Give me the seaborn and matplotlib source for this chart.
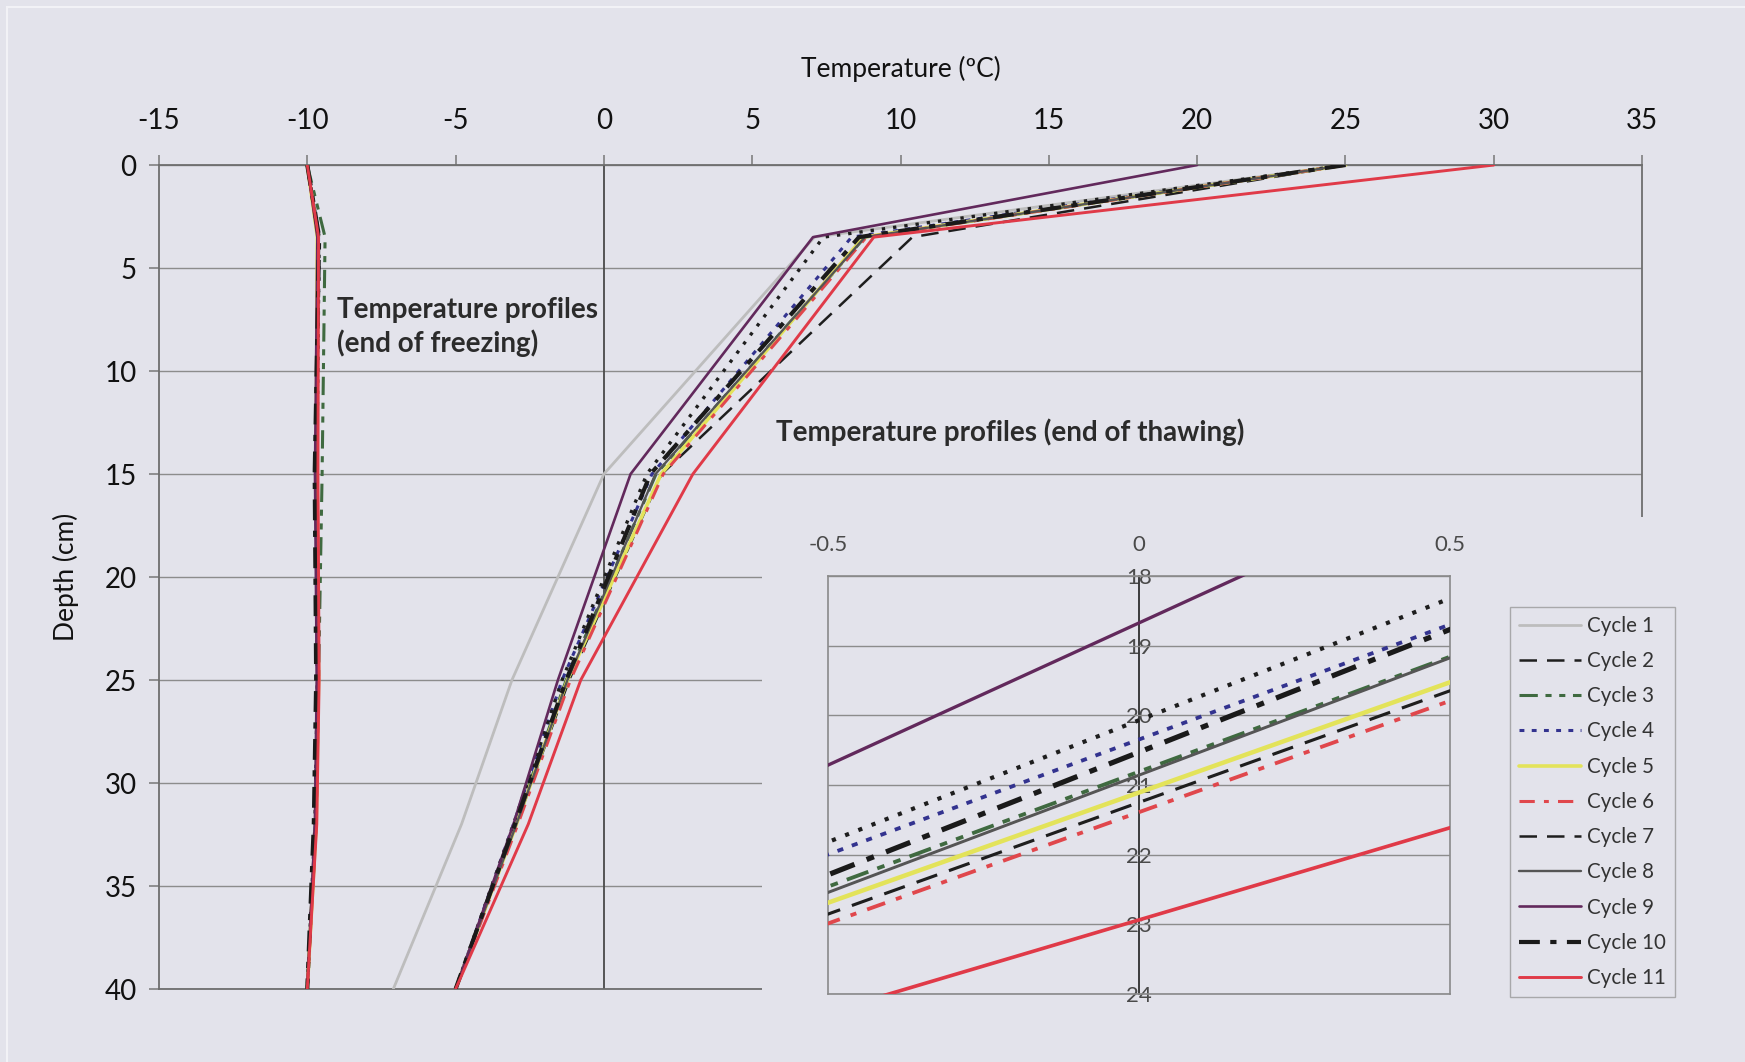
import matplotlib
matplotlib.use("Agg")
import numpy as np
import pandas as pd
import matplotlib.pyplot as plt
import seaborn as sns
from matplotlib.lines import Line2D
from matplotlib.patches import Rectangle

# ---------------- data ----------------
cycles = ["Cycle 1", "Cycle 2", "Cycle 3", "Cycle 4", "Cycle 5", "Cycle 6",
          "Cycle 7", "Cycle 8", "Cycle 9", "Cycle 10", "Cycle 11"]
depth_cm = [0, 3.5, 15, 25, 32, 40]

# temperature profiles at end of thawing (ºC), one list per cycle, at depth_cm
thaw_c1 = [25.0, 7.1, 0.0, -3.1, -4.8, -7.1]
thaw_c2 = [25.0, 10.4, 1.95, -1.17, -2.95, -5.0]
thaw_c3 = [25.0, 8.8, 1.76, -1.27, -3.0, -5.0]
thaw_c4 = [25.0, 8.35, 1.62, -1.41, -3.05, -5.0]
thaw_c5 = [25.0, 8.75, 1.93, -1.23, -2.95, -5.0]
thaw_c6 = [25.0, 8.85, 2.0, -1.13, -2.9, -5.0]
thaw_c7 = [25.0, 7.4, 1.45, -1.41, -3.05, -5.0]
thaw_c8 = [25.0, 8.8, 1.74, -1.23, -2.95, -5.0]
thaw_c9 = [20.0, 7.05, 0.9, -1.55, -3.05, -5.0]
thaw_c10 = [25.0, 8.6, 1.57, -1.27, -3.0, -5.0]
thaw_c11 = [30.0, 9.1, 3.0, -0.78, -2.55, -5.0]

# temperature profiles at end of freezing (ºC)
frz_c1 = [-10.0, -9.65, -9.70, -9.68, -9.75, -10.0]
frz_c2 = [-10.0, -9.60, -9.72, -9.66, -9.74, -10.0]
frz_c3 = [-10.0, -9.40, -9.50, -9.62, -9.70, -10.0]
frz_c4 = [-10.0, -9.62, -9.68, -9.64, -9.72, -10.0]
frz_c5 = [-10.0, -9.66, -9.70, -9.62, -9.70, -10.0]
frz_c6 = [-10.0, -9.64, -9.66, -9.62, -9.70, -10.0]
frz_c7 = [-10.0, -9.60, -9.68, -9.66, -9.74, -10.0]
frz_c8 = [-10.0, -9.63, -9.70, -9.65, -9.72, -10.0]
frz_c9 = [-10.0, -9.66, -9.74, -9.68, -9.74, -10.0]
frz_c10 = [-10.0, -9.60, -9.75, -9.70, -9.78, -10.0]
frz_c11 = [-10.0, -9.62, -9.64, -9.60, -9.68, -10.0]

thaw = [thaw_c1, thaw_c2, thaw_c3, thaw_c4, thaw_c5, thaw_c6,
        thaw_c7, thaw_c8, thaw_c9, thaw_c10, thaw_c11]
freeze = [frz_c1, frz_c2, frz_c3, frz_c4, frz_c5, frz_c6,
          frz_c7, frz_c8, frz_c9, frz_c10, frz_c11]

x_ticks = [-15, -10, -5, 0, 5, 10, 15, 20, 25, 30, 35]
y_ticks = [0, 5, 10, 15, 20, 25, 30, 35, 40]
inset_x_ticks = [-0.5, 0, 0.5]
inset_x_labels = ["-0.5", "0", "0.5"]
inset_y_ticks = [18, 19, 20, 21, 22, 23, 24]

# ---------------- styles ----------------
styles = {
    "Cycle 1": dict(color="#bdbdbd", lw=2.0, ls="-"),
    "Cycle 2": dict(color="#1e1e1e", lw=1.8, ls=(0, (7, 4))),
    "Cycle 3": dict(color="#3f6a40", lw=2.2, ls=(0, (6, 2.5, 2, 2.5, 2, 2.5))),
    "Cycle 4": dict(color="#33338f", lw=2.2, ls=(0, (1.6, 2.4))),
    "Cycle 5": dict(color="#e3e35a", lw=2.6, ls="-"),
    "Cycle 6": dict(color="#e0474c", lw=2.2, ls=(0, (5, 3, 1.6, 3))),
    "Cycle 7": dict(color="#1e1e1e", lw=2.4, ls=(0, (1.0, 2.4))),
    "Cycle 8": dict(color="#555555", lw=1.7, ls="-"),
    "Cycle 9": dict(color="#62295c", lw=1.9, ls="-"),
    "Cycle 10": dict(color="#1a1a1a", lw=3.0, ls=(0, (5, 2.5, 1.5, 2.5))),
    "Cycle 11": dict(color="#e03a48", lw=2.1, ls="-"),
}
legend_ls = dict(styles)
legend_ls["Cycle 7"] = dict(color="#1e1e1e", lw=1.8, ls=(0, (7, 4)))

BG = "#e3e3eb"
GRID = "#8c8c8c"
TXT = "#111111"

sns.set_theme(style="white")
plt.rcParams["font.family"] = ["Lato", "DejaVu Sans"]
plt.rcParams["axes.unicode_minus"] = False

fig = plt.figure(figsize=(17.45, 10.62), dpi=100, facecolor=BG)

# ---------------- main axes ----------------
ax = fig.add_axes([0.0911, 0.0687, 0.8499, 0.7759])
ax.set_facecolor(BG)

for name, t, f in zip(cycles, thaw, freeze):
    st = styles[name]
    for vals in (t, f):
        df = pd.DataFrame({"temp": vals, "depth": depth_cm})
        sns.lineplot(data=df, x="temp", y="depth", sort=False, estimator=None,
                     ax=ax, color=st["color"], linewidth=st["lw"],
                     linestyle=st["ls"], legend=False, zorder=3)

ax.set_xlim(-15, 35)
ax.set_ylim(40, 0)
ax.set_xticks(x_ticks)
ax.set_yticks(y_ticks)
ax.xaxis.tick_top()
ax.xaxis.set_label_position("top")
ax.yaxis.grid(True, color=GRID, lw=1.0, zorder=0)
ax.xaxis.grid(False)
ax.axvline(0, color="#4a4a4a", lw=1.3, zorder=1)
for sp in ax.spines.values():
    sp.set_color("#6e6e6e")
    sp.set_linewidth(1.3)
ax.tick_params(axis="x", direction="out", length=7, width=1.1, color="#777777",
               pad=15, labelsize=20, labelcolor=TXT, top=True, bottom=False)
ax.tick_params(axis="y", direction="out", length=7, width=1.1, color="#777777",
               pad=9, labelsize=20, labelcolor=TXT, left=True)
ax.set_xlabel("Temperature (ºC)", fontsize=19, color=TXT, labelpad=23)
ax.set_ylabel("Depth (cm)", fontsize=19, color=TXT, labelpad=18)
ax.set_axisbelow(True)

ax.text(-9.0, 7.85, "Temperature profiles\n(end of freezing)", fontsize=20,
        fontweight="bold", color="#2b2b2b", va="center", ha="left",
        linespacing=1.3, zorder=4)
ax.text(5.8, 12.95, "Temperature profiles (end of thawing)", fontsize=20,
        fontweight="bold", color="#2b2b2b", va="center", ha="left", zorder=4)

# cover for the inset area
fig.add_artist(Rectangle((0.4367, 0.0), 0.5633, 0.5132, transform=fig.transFigure,
                         facecolor=BG, edgecolor="none", zorder=1))

# ---------------- inset axes ----------------
ax_in = fig.add_axes([0.4745, 0.0640, 0.3564, 0.3936])
ax_in.set_zorder(2)
ax_in.set_facecolor(BG)
for name, t in zip(cycles, thaw):
    st = styles[name]
    df = pd.DataFrame({"temp": t, "depth": depth_cm})
    sns.lineplot(data=df, x="temp", y="depth", sort=False, estimator=None,
                 ax=ax_in, color=st["color"], linewidth=st["lw"] * 1.25,
                 linestyle=st["ls"], legend=False, zorder=3)
ax_in.set_xlim(-0.5, 0.5)
ax_in.set_ylim(24, 18)
ax_in.set_xticks(inset_x_ticks)
ax_in.set_xticklabels(inset_x_labels)
ax_in.set_yticks(inset_y_ticks)
ax_in.xaxis.tick_top()
ax_in.set_xlabel("")
ax_in.set_ylabel("")
ax_in.yaxis.grid(True, color=GRID, lw=1.0)
ax_in.xaxis.grid(False)
ax_in.tick_params(axis="x", length=0, pad=15, labelsize=16, labelcolor="#4a4a4a")
ax_in.tick_params(axis="y", left=False, labelleft=False, length=0)
for sp in ax_in.spines.values():
    sp.set_color("#8a8a8a")
    sp.set_linewidth(1.2)

sec = ax_in.secondary_yaxis(0.5)
sec.set_yticks(inset_y_ticks)
sec.set_yticklabels([str(v) for v in inset_y_ticks], ha="center")
sec.tick_params(axis="y", length=0, pad=0, labelsize=16, labelcolor="#4a4a4a")
sec.spines["left"].set_color("#6a6a6a")
sec.spines["left"].set_linewidth(1.2)

# ---------------- legend ----------------
handles = [Line2D([], [], color=legend_ls[c]["color"], lw=legend_ls[c]["lw"],
                  ls=legend_ls[c]["ls"]) for c in cycles]
leg = fig.legend(handles, cycles, loc="upper left",
                 bbox_to_anchor=(0.8653, 0.4288), borderaxespad=0.0,
                 frameon=True, fontsize=14.8, handlelength=3.0,
                 labelspacing=0.74, handletextpad=0.3, borderpad=0.45,
                 fancybox=False, labelcolor="#333333")
leg.get_frame().set_edgecolor("#9a9a9a")
leg.get_frame().set_facecolor(BG)
leg.get_frame().set_linewidth(1.0)
leg.set_zorder(5)

# scanned page edge
fig.add_artist(Rectangle((0.004, -0.01), 1.2, 1.0 - 0.0066 + 0.01,
                         transform=fig.transFigure, facecolor="none",
                         edgecolor="#f2f2f6", lw=1.5, zorder=0.5))

fig.savefig("out.png", dpi=100, facecolor=BG)
